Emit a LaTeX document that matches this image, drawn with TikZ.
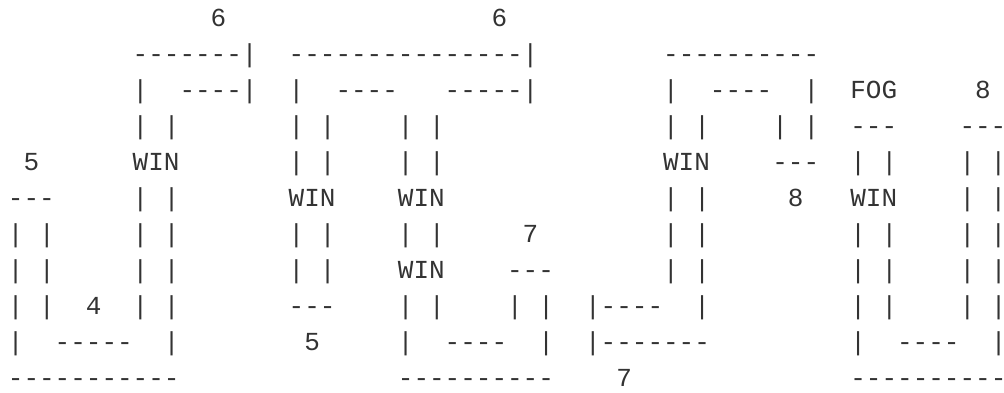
\documentclass[tikz,border=0pt]{standalone}
\usepackage{fontspec}
\setmonofont{Liberation Mono}
\usepackage{tikz}

% one blank column of the maze
\newcommand{\colgap}[1]{\hspace*{#1\dimexpr0.6em\relax}}

\begin{document}
\begin{tikzpicture}[
  x=1pt, y=1pt,
  mazerow/.style={anchor=base west, inner sep=0pt, outer sep=0pt,
    font=\ttfamily\fontsize{26}{26}\selectfont, text=black!80}
]
  \useasboundingbox (0,0) rectangle (1004,392);

  \node[mazerow] (row0) at (7.9,365.5) {\colgap{13}6\colgap{17}6};
  \node[mazerow] (row1) at (7.9,329.5) {\colgap{8}-------|\colgap{2}---------------|\colgap{8}----------};
  \node[mazerow] (row2) at (7.9,293.5) {\colgap{8}|\colgap{2}----|\colgap{2}|\colgap{2}----\colgap{3}-----|\colgap{8}|\colgap{2}----\colgap{2}|\colgap{2}FOG\colgap{5}8};
  \node[mazerow] (row3) at (7.9,257.5) {\colgap{8}|~|\colgap{7}|~|\colgap{4}|~|\colgap{14}|~|\colgap{4}|~|\colgap{2}---\colgap{4}---};
  \node[mazerow] (row4) at (7.9,221.5) {\colgap{1}5\colgap{6}WIN\colgap{7}|~|\colgap{4}|~|\colgap{14}WIN\colgap{4}---\colgap{2}|~|\colgap{4}|~|};
  \node[mazerow] (row5) at (7.9,185.5) {---\colgap{5}|~|\colgap{7}WIN\colgap{4}WIN\colgap{14}|~|\colgap{5}8\colgap{3}WIN\colgap{4}|~|};
  \node[mazerow] (row6) at (7.9,149.5) {|~|\colgap{5}|~|\colgap{7}|~|\colgap{4}|~|\colgap{5}7\colgap{8}|~|\colgap{9}|~|\colgap{4}|~|};
  \node[mazerow] (row7) at (7.9,113.5) {|~|\colgap{5}|~|\colgap{7}|~|\colgap{4}WIN\colgap{4}---\colgap{7}|~|\colgap{9}|~|\colgap{4}|~|};
  \node[mazerow] (row8) at (7.9,77.5) {|~|\colgap{2}4\colgap{2}|~|\colgap{7}---\colgap{4}|~|\colgap{4}|~|\colgap{2}|----\colgap{2}|\colgap{9}|~|\colgap{4}|~|};
  \node[mazerow] (row9) at (7.9,41.5) {|\colgap{2}-----\colgap{2}|\colgap{8}5\colgap{5}|\colgap{2}----\colgap{2}|\colgap{2}|-------\colgap{9}|\colgap{2}----\colgap{2}|};
  \node[mazerow] (row10) at (7.9,5.5) {-----------\colgap{14}----------\colgap{4}7\colgap{14}----------};
\end{tikzpicture}
\end{document}
